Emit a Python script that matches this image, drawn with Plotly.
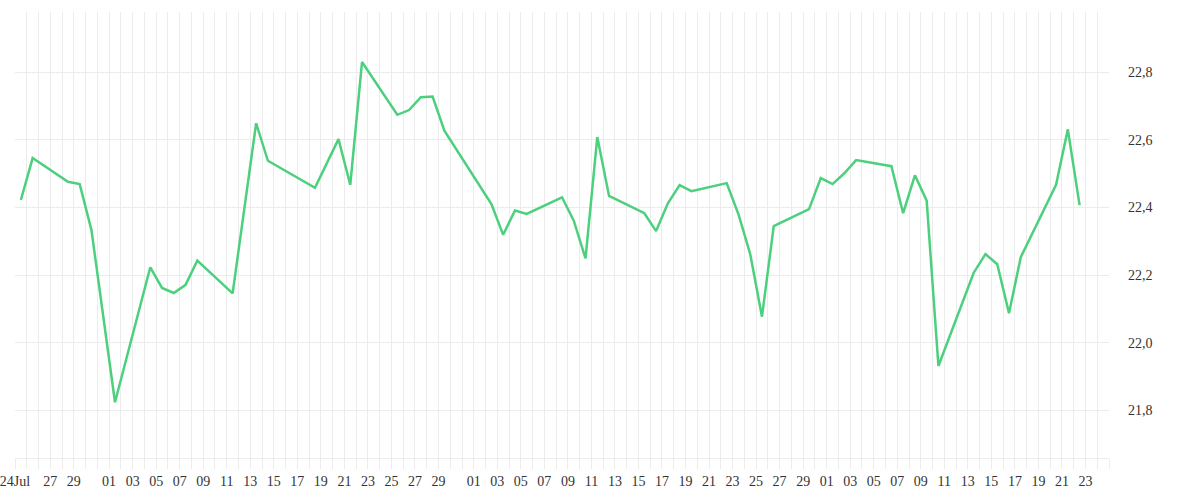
import plotly.graph_objects as go

dates = [
    "2023-07-24", "2023-07-25", "2023-07-28", "2023-07-29", "2023-07-30",
    "2023-08-01", "2023-08-04", "2023-08-05", "2023-08-06", "2023-08-07",
    "2023-08-08", "2023-08-11", "2023-08-13", "2023-08-14", "2023-08-18",
    "2023-08-20", "2023-08-21", "2023-08-22", "2023-08-25", "2023-08-26",
    "2023-08-27", "2023-08-28", "2023-08-29", "2023-09-02", "2023-09-03",
    "2023-09-04", "2023-09-05", "2023-09-08", "2023-09-09", "2023-09-10",
    "2023-09-11", "2023-09-12", "2023-09-15", "2023-09-16", "2023-09-17",
    "2023-09-18", "2023-09-19", "2023-09-22", "2023-09-23", "2023-09-24",
    "2023-09-25", "2023-09-26", "2023-09-29", "2023-09-30", "2023-10-01",
    "2023-10-02", "2023-10-03", "2023-10-06", "2023-10-07", "2023-10-08",
    "2023-10-09", "2023-10-10", "2023-10-13", "2023-10-14", "2023-10-15",
    "2023-10-16", "2023-10-17", "2023-10-20", "2023-10-21", "2023-10-22",
]
values = [
    22.422, 22.546, 22.476, 22.469, 22.333,
    21.824, 22.223, 22.162, 22.147, 22.171,
    22.243, 22.146, 22.649, 22.538, 22.458,
    22.602, 22.467, 22.830, 22.674, 22.688,
    22.726, 22.728, 22.627, 22.410, 22.319,
    22.391, 22.381, 22.430, 22.361, 22.249,
    22.608, 22.434, 22.383, 22.330, 22.412,
    22.466, 22.448, 22.472, 22.380, 22.262,
    22.077, 22.345, 22.395, 22.487, 22.469,
    22.501, 22.540, 22.522, 22.383, 22.495,
    22.420, 21.931, 22.207, 22.262, 22.232,
    22.087, 22.253, 22.467, 22.631, 22.407,
]

tick_dates = [
    "2023-07-24", "2023-07-27", "2023-07-29",
    "2023-08-01", "2023-08-03", "2023-08-05", "2023-08-07", "2023-08-09",
    "2023-08-11", "2023-08-13", "2023-08-15", "2023-08-17", "2023-08-19",
    "2023-08-21", "2023-08-23", "2023-08-25", "2023-08-27", "2023-08-29",
    "2023-09-01", "2023-09-03", "2023-09-05", "2023-09-07", "2023-09-09",
    "2023-09-11", "2023-09-13", "2023-09-15", "2023-09-17", "2023-09-19",
    "2023-09-21", "2023-09-23", "2023-09-25", "2023-09-27", "2023-09-29",
    "2023-10-01", "2023-10-03", "2023-10-05", "2023-10-07", "2023-10-09",
    "2023-10-11", "2023-10-13", "2023-10-15", "2023-10-17", "2023-10-19",
    "2023-10-21", "2023-10-23",
]
tick_labels = ["24Jul"] + [d[-2:] for d in tick_dates[1:]]

y_ticks = [21.8, 22.0, 22.2, 22.4, 22.6, 22.8]

GRID = "#ececec"
FONT = dict(family="Liberation Serif, Times New Roman, serif", size=14, color="#333333")

x_points = [d + " 12:00" for d in dates]

fig = go.Figure()
fig.add_trace(go.Scatter(
    x=x_points, y=values, mode="lines",
    line=dict(color="#4cd07d", width=2.5),
    hoverinfo="x+y",
))

fig.update_layout(
    width=1200, height=500,
    margin=dict(l=15, r=91, t=12, b=42),
    paper_bgcolor="white", plot_bgcolor="white",
    showlegend=False,
    separators=",.",
    font=FONT,
)
fig.update_xaxes(
    type="date",
    automargin=False,
    range=["2023-07-24", "2023-10-25"],
    tickmode="array", tickvals=tick_dates, ticktext=tick_labels,
    ticklabeloverflow="allow",
    showgrid=True, gridcolor=GRID, gridwidth=1,
    ticks="outside", ticklen=10, tickcolor=GRID, tickwidth=1,
    showline=True, linecolor=GRID, linewidth=1,
    zeroline=False,
    tickfont=FONT,
    minor=dict(tick0="2023-07-24", dtick=86400000, showgrid=True,
               gridcolor=GRID, gridwidth=1, ticks="outside", ticklen=10,
               tickcolor=GRID, tickwidth=1),
)
fig.update_yaxes(
    side="right",
    automargin=False,
    range=[21.659, 22.978],
    tickmode="array", tickvals=y_ticks,
    tickformat=".1f",
    showgrid=True, gridcolor=GRID, gridwidth=1,
    zeroline=False, showline=False,
    ticks="", ticklabelstandoff=18,
    tickfont=FONT,
)

fig.write_html(
    "out.html",
    config={"displayModeBar": False},
    post_script="document.body.style.margin='0';document.body.style.overflow='hidden';",
)
